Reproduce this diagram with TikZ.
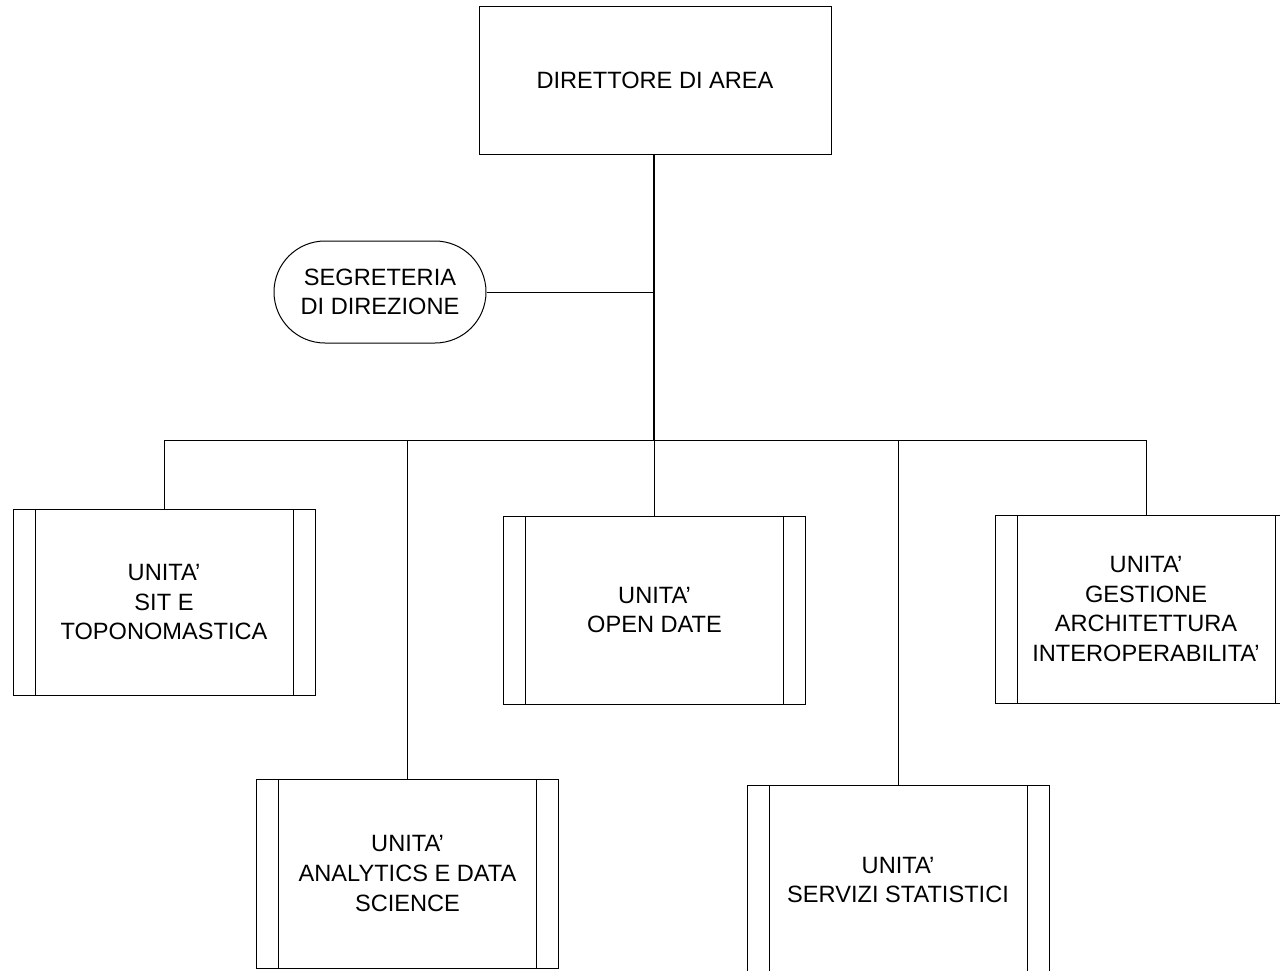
\documentclass[tikz,border=0pt]{standalone}
\usepackage{fontspec}
\setmainfont{Liberation Sans}
\begin{document}
\begin{tikzpicture}[x=1pt,y=-1pt,
  every node/.style={font=\fontsize{23.6}{29.7}\selectfont, align=center, inner sep=0pt},
  ln/.style={line width=1pt},
  mainln/.style={line width=2pt},
  dirbox/.style={draw, line width=1pt, rectangle, minimum width=352pt, minimum height=148pt},
  segbox/.style={draw, line width=1pt, rectangle, rounded corners=51pt, minimum width=212pt, minimum height=102pt},
  unitbox/.style={draw, line width=1pt, rectangle, minimum width=302pt, minimum height=#1,
    path picture={
      \draw[line width=1pt] ([xshift=22pt]path picture bounding box.north west) -- ([xshift=22pt]path picture bounding box.south west);
      \draw[line width=1pt] ([xshift=-22pt]path picture bounding box.north east) -- ([xshift=-22pt]path picture bounding box.south east);
    }},
]
\useasboundingbox (0,0) rectangle (1280,970);
\fill[white] (0,0) rectangle (1280,970);

\node[dirbox] (dir) at (655,80) {DIRETTORE DI AREA};
\node[segbox] (seg) at (380,292) {SEGRETERIA\\DI DIREZIONE};

\node[unitbox=186pt] (u1) at (164,602) {UNITA’\\SIT E\\TOPONOMASTICA};
\node[unitbox=188pt] (u2) at (654.5,610) {UNITA’\\OPEN DATE};
\node[unitbox=188pt] (u3) at (1146,609) {UNITA’\\GESTIONE\\ARCHITETTURA\\INTEROPERABILITA’};
\node[unitbox=189pt] (u4) at (407.5,873.5) {UNITA’\\ANALYTICS E DATA\\SCIENCE};
\node[unitbox=190pt] (u5) at (898,880) {UNITA’\\SERVIZI STATISTICI};

\coordinate (j) at (654,440);
\coordinate (b1) at (164,440);
\coordinate (b4) at (407,440);
\coordinate (b5) at (898,440);
\coordinate (b3) at (1146,440);
\coordinate (sj) at (654,292);

\draw[mainln] (dir.south -| j) -- (j);
\draw[ln] (seg.east) -- (sj);
\draw[ln] (b1) -- (b3);
\draw[ln] (b1) -- (u1.north);
\draw[ln] (b4) -- (b4 |- u4.north);
\draw[ln] (j) -- (j |- u2.north);
\draw[ln] (b5) -- (b5 |- u5.north);
\draw[ln] (b3) -- (u3.north);
\end{tikzpicture}
\end{document}
